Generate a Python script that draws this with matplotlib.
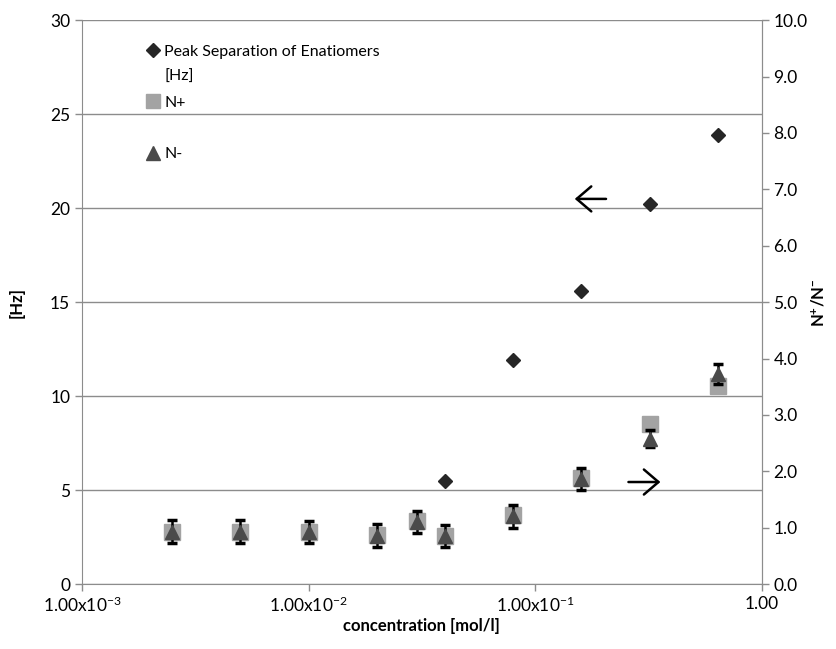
import matplotlib.pyplot as plt
from matplotlib.lines import Line2D

plt.rcParams['font.family'] = ['Lato', 'DejaVu Sans']
plt.rcParams['mathtext.fontset'] = 'custom'
plt.rcParams['mathtext.rm'] = 'Lato'
plt.rcParams['mathtext.bf'] = 'Lato:bold'

# concentrations [mol/l]
conc = [0.0025, 0.005, 0.01, 0.02, 0.03, 0.04, 0.08, 0.16, 0.32, 0.64]
# peak separation [Hz], only measured for the higher concentrations
conc_hz = [0.04, 0.08, 0.16, 0.32, 0.64]
peak_hz = [5.5, 11.9, 15.6, 20.2, 23.9]
# N+ and N- ratios
n_plus = [0.93, 0.93, 0.93, 0.87, 1.12, 0.86, 1.22, 1.88, 2.83, 3.52]
n_minus = [0.93, 0.93, 0.92, 0.86, 1.10, 0.85, 1.20, 1.86, 2.58, 3.72]
n_err = [0.2, 0.2, 0.2, 0.2, 0.19, 0.2, 0.2, 0.2, 0.15, 0.18]

xticks = [1e-3, 1e-2, 1e-1, 1.0]
xticklabels = [r'$\mathregular{1.00x10^{-3}}$', r'$\mathregular{1.00x10^{-2}}$',
               r'$\mathregular{1.00x10^{-1}}$', '1.00']

fig = plt.figure(figsize=(8.37, 6.49), dpi=100)
ax = fig.add_axes([0.098, 0.100, 0.812, 0.869])
ax2 = ax.twinx()

grey = '#8c8c8c'

# left axis: Hz
ax.set_xscale('log')
ax.set_xlim(1e-3, 1.0)
ax.set_ylim(0, 30)
ax.set_yticks([0, 5, 10, 15, 20, 25, 30])
ax.set_xticks(xticks)
ax.set_xticklabels(xticklabels)
ax.minorticks_off()
ax.grid(axis='y', color=grey, lw=1)
ax.set_axisbelow(True)
ax.tick_params(labelsize=12.5, color=grey, length=5, width=1)
ax.spines['top'].set_visible(False)
for s in ['left', 'bottom', 'right']:
    ax.spines[s].set_color(grey)
ax.set_ylabel('[Hz]', fontsize=12, fontweight='bold', labelpad=18)
ax.set_xlabel('concentration [mol/l]', fontsize=12, fontweight='bold', labelpad=2)

# right axis: N+/N-
ax2.set_ylim(0, 10)
ax2.set_yticks([i for i in range(11)])
ax2.set_yticklabels(['%.1f' % i for i in range(11)])
ax2.tick_params(labelsize=12.5, color=grey, length=5, width=1)
for s in ['top', 'left', 'bottom']:
    ax2.spines[s].set_visible(False)
ax2.spines['right'].set_color(grey)
ax2.set_ylabel(r'$\mathbf{N^{+}/N^{-}}$', fontsize=12, labelpad=2)

# data
ax.plot(conc_hz, peak_hz, 'D', color='#262626', ms=7.2, zorder=5, clip_on=False)
ax2.plot(conc, n_plus, 's', color='#a3a3a3', ms=11.5, zorder=3)
ax2.errorbar(conc, n_minus, yerr=n_err, fmt='^', color='#4a4a4a', ms=10,
             ecolor='black', elinewidth=1.8, capsize=3.6, capthick=2.5, zorder=4)

# arrows pointing to the axis each series belongs to
arrow = dict(arrowstyle='->, head_length=0.35, head_width=0.3', color='black',
             lw=1.8, mutation_scale=30, shrinkA=0, shrinkB=0)
ax.annotate('', xy=(0.725, 0.683), xytext=(0.771, 0.683), xycoords='axes fraction',
            arrowprops=arrow)
ax.annotate('', xy=(0.851, 0.181), xytext=(0.804, 0.181), xycoords='axes fraction',
            arrowprops=arrow)

# legend
blank = Line2D([], [], linestyle='none')
handles = [Line2D([], [], marker='D', color='#262626', ms=7, linestyle='none'),
           blank,
           Line2D([], [], marker='s', color='#a3a3a3', ms=10, linestyle='none'),
           blank,
           Line2D([], [], marker='^', color='#4a4a4a', ms=10, linestyle='none')]
labels = ['Peak Separation of Enatiomers', '[Hz]', 'N+', '', 'N-']
ax2.legend(handles, labels, loc='upper left', bbox_to_anchor=(0.095, 0.957),
           frameon=False, fontsize=11.5, labelspacing=0.72, handlelength=0.8,
           handletextpad=0.3, borderpad=0, borderaxespad=0)

fig.savefig('out.png', dpi=100, facecolor='white')
